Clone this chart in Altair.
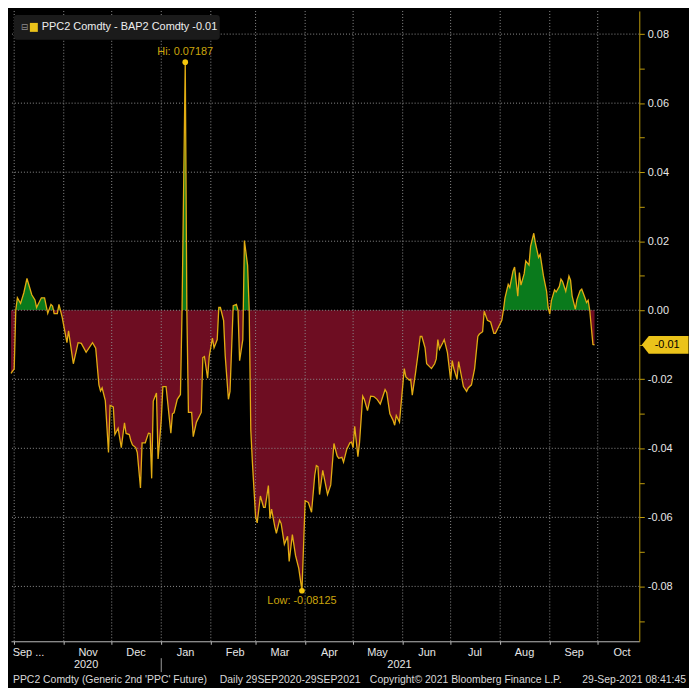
import pandas as pd
import altair as alt

# spread PPC2 - BAP2 (days after 29-Sep-2020)
days = [0, 2, 3, 4, 6, 8, 10, 13, 15, 16,
        19, 21, 23, 25, 26, 27, 29, 30, 32, 35,
        36, 39, 42, 44, 47, 51, 53, 55, 56, 57,
        59, 61, 62, 64, 65, 67, 69, 71, 72, 74,
        75, 76, 78, 79, 81, 82, 84, 86, 87, 88,
        89, 91, 92, 94, 95, 97, 100, 101, 102, 104,
        106, 107, 109, 110, 111, 113, 114, 116, 119, 120,
        121, 123, 124, 126, 127, 129, 130, 131, 133, 134,
        136, 137, 139, 141, 142, 143, 145, 146, 148, 149,
        150, 151, 153, 154, 156, 158, 159, 161, 162, 163,
        165, 166, 168, 169, 171, 173, 174, 176, 178, 180,
        182, 184, 186, 188, 190, 191, 192, 193, 195, 198,
        200, 202, 204, 205, 207, 208, 210, 212, 213, 214,
        215, 217, 218, 220, 221, 223, 225, 227, 229, 231,
        232, 234, 235, 237, 239, 240, 241, 243, 246, 247,
        249, 250, 251, 253, 255, 256, 257, 259, 260, 263,
        265, 266, 267, 268, 270, 271, 273, 275, 276, 277,
        279, 280, 282, 283, 285, 286, 288, 290, 292, 293,
        295, 296, 298, 300, 302, 303, 305, 307, 308, 309,
        311, 312, 314, 315, 317, 318, 319, 321, 322, 324,
        325, 327, 328, 330, 331, 333, 335, 336, 337, 338,
        340, 341, 343, 344, 345, 347, 349, 350, 351, 353,
        354, 356, 357, 359, 360, 361, 362, 364, 365]
spread = [-0.0183, -0.0170, 0.0000, 0.0036, 0.0020, 0.0050, 0.0092, 0.0045, 0.0030, 0.0008,
          0.0036, 0.0036, -0.0009, 0.0017, 0.0012, -0.0010, -0.0010, 0.0017, -0.0020, -0.0094,
          -0.0060, -0.0155, -0.0094, -0.0096, -0.0122, -0.0094, -0.0110, -0.0216, -0.0234, -0.0225,
          -0.0262, -0.0412, -0.0276, -0.0280, -0.0360, -0.0342, -0.0398, -0.0326, -0.0357, -0.0360,
          -0.0378, -0.0390, -0.0398, -0.0412, -0.0515, -0.0384, -0.0384, -0.0356, -0.0357, -0.0487,
          -0.0263, -0.0240, -0.0431, -0.0319, -0.0221, -0.0221, -0.0356, -0.0300, -0.0297, -0.0258,
          -0.0244, 0.0000, 0.07187, 0.0000, -0.0296, -0.0296, -0.0366, -0.0324, -0.0296, -0.0137,
          -0.0134, -0.0197, -0.0134, -0.0081, -0.0109, -0.0085, 0.0008, 0.0008, -0.0030, -0.0132,
          -0.0258, -0.0235, 0.0013, 0.0017, 0.0000, -0.0146, -0.0085, 0.0202, 0.0130, 0.0000,
          -0.0347, -0.0440, -0.0599, -0.0616, -0.0538, -0.0571, -0.0571, -0.0508, -0.0604, -0.0576,
          -0.0627, -0.0646, -0.0608, -0.0618, -0.0678, -0.0655, -0.0728, -0.0650, -0.0711, -0.0748,
          -0.08125, -0.0552, -0.0557, -0.0585, -0.0478, -0.0450, -0.0453, -0.0534, -0.0464, -0.0534,
          -0.0506, -0.0386, -0.0422, -0.0429, -0.0426, -0.0440, -0.0403, -0.0384, -0.0382, -0.0398,
          -0.0336, -0.0424, -0.0384, -0.0249, -0.0258, -0.0291, -0.0249, -0.0250, -0.0258, -0.0272,
          -0.0258, -0.0230, -0.0238, -0.0300, -0.0319, -0.0333, -0.0305, -0.0324, -0.0169, -0.0193,
          -0.0202, -0.0200, -0.0246, -0.0183, -0.0113, -0.0076, -0.0076, -0.0109, -0.0155, -0.0169,
          -0.0155, -0.0141, -0.0085, -0.0113, -0.0095, -0.0085, -0.0123, -0.0202, -0.0146, -0.0169,
          -0.0200, -0.0149, -0.0197, -0.0221, -0.0235, -0.0225, -0.0216, -0.0169, -0.0076, -0.0069,
          -0.0062, -0.0003, -0.0029, -0.0034, -0.0067, -0.0067, -0.0048, -0.0029, 0.0000, 0.0036,
          0.0075, 0.0066, 0.0113, 0.0125, 0.0041, 0.0109, 0.0073, 0.0106, 0.0143, 0.0131,
          0.0185, 0.0223, 0.0195, 0.0153, 0.0162, 0.0101, 0.0055, 0.0008, -0.0011, 0.0027,
          0.0059, 0.0053, 0.0069, 0.0090, 0.0083, 0.0055, 0.0099, 0.0087, 0.0041, 0.0003,
          0.0031, 0.0057, 0.0061, 0.0036, 0.0022, 0.0029, 0.0000, -0.0099, -0.0100]

y_major = [-0.08, -0.06, -0.04, -0.02, 0.0, 0.02, 0.04, 0.06, 0.08]
y_ticks = [-0.09, -0.08, -0.07, -0.06, -0.05, -0.04, -0.03, -0.02, -0.01,
           0.0, 0.01, 0.02, 0.03, 0.04, 0.05, 0.06, 0.07, 0.08]
month_starts = ['2020-10-01', '2020-11-01', '2020-12-01', '2021-01-01', '2021-02-01',
                '2021-03-01', '2021-04-01', '2021-05-01', '2021-06-01', '2021-07-01',
                '2021-08-01', '2021-09-01', '2021-10-01']
year_labels = ['2020', '2021']
year_dates = ['2020-11-15', '2021-05-30']
year_split = ['2021-01-01']
legend_name = 'PPC2 Comdty - BAP2 Comdty'
footer_parts = ["PPC2 Comdty (Generic 2nd 'PPC' Future)", 'Daily 29SEP2020-29SEP2021',
                'Copyright\u00a9 2021 Bloomberg Finance L.P.', '29-Sep-2021 08:41:45']

FONT = 'Liberation Sans'
GREEN = '#0A7A1C'
RED = '#6E0D22'
LINE = '#E2AC12'
GOLD_TEXT = '#CBA50C'
DOT = '#F4C60C'
GRID = '#8E8E8E'
AXIS_Y = '#BE9C0C'
TAG = '#EBC31A'
W, H = 632, 634

df = pd.DataFrame({'date': pd.Timestamp('2020-09-29') + pd.to_timedelta(days, unit='D'),
                   'spread': spread})
months = pd.DataFrame({'date': pd.to_datetime(month_starts)})
levels = pd.DataFrame({'spread': y_major})

hi = df.loc[[df.spread.idxmax()]].copy()
hi['label'] = 'Hi: ' + hi.spread.map('{:.5f}'.format)
lo = df.loc[[df.spread.idxmin()]].copy()
lo['label'] = 'Low: ' + lo.spread.map('{:.5f}'.format)
last = df.tail(1).copy()
last['label'] = last.spread.map('{:.2f}'.format)

# green above zero, red below: gradient split exactly at the zero line
hi_v, lo_v = df.spread.max(), df.spread.min()
off = hi_v / (hi_v - lo_v)
fill = alt.Gradient(gradient='linear', x1=0, y1=0, x2=0, y2=1, stops=[
    alt.GradientStop(color=GREEN, offset=0), alt.GradientStop(color=GREEN, offset=off),
    alt.GradientStop(color=RED, offset=off), alt.GradientStop(color=RED, offset=1)])

x_scale = alt.Scale(domain=[alt.DateTime(year=2020, month=9, date=29),
                            alt.DateTime(year=2021, month=10, date=27)])
y_scale = alt.Scale(domain=[-0.0959, 0.0867], nice=False, zero=False)

first_month = "month(datum.value) == 9 && year(datum.value) == 2020"
x_axis = alt.Axis(
    values=[alt.DateTime(year=d.year, month=d.month, date=1) for d in months.date],
    labelExpr="(" + first_month + ") ? 'Sep ...' : timeFormat(datum.value, '%b')",
    labelOffset={'condition': {'test': first_month, 'value': -2}, 'value': 24},
    labelAlign={'condition': {'test': first_month, 'value': 'left'}, 'value': 'center'},
    labelFlush=False, labelOverlap=False, labelPadding=2,
    tickSize=3, tickColor='#BBBBBB', domainColor='#BBBBBB',
    labelColor='#E6E6E6', labelFontSize=11, labelFont=FONT, grid=False, title=None)
y_axis = alt.Axis(
    orient='right', values=y_ticks,
    labelExpr="abs(round(datum.value * 100)) % 2 == 1 ? '' : replace(format(datum.value, '.2f'), '\u2212', '-')",
    tickSize=5, tickColor=AXIS_Y, domainColor=AXIS_Y, labelPadding=3, labelOverlap=False,
    labelColor='#E6E6E6', labelFontSize=11, labelFont=FONT, grid=False, title=None)

# same scale and axis in every layer so they merge into one
X = alt.X('date:T', scale=x_scale, axis=x_axis)
Y = alt.Y('spread:Q', scale=y_scale, axis=y_axis)

area = alt.Chart(df).mark_area(fill=fill, interpolate='linear').encode(x=X, y=Y, y2=alt.datum(0))
hgrid = alt.Chart(levels).mark_rule(color=GRID, strokeDash=[1, 2]).encode(y=Y)
vgrid = alt.Chart(months).mark_rule(color=GRID, strokeDash=[1, 2]).encode(x=X)
line = alt.Chart(df).mark_line(color=LINE, strokeWidth=1.3).encode(x=X, y=Y)
dots = alt.Chart(pd.concat([hi, lo])).mark_circle(size=32, color=DOT, opacity=1).encode(x=X, y=Y)
hi_text = alt.Chart(hi).mark_text(dy=-10, color=GOLD_TEXT, fontSize=11).encode(x=X, y=Y, text='label:N')
lo_text = alt.Chart(lo).mark_text(dy=10, color=GOLD_TEXT, fontSize=11).encode(x=X, y=Y, text='label:N')

tag = alt.Chart(last).mark_point(
    shape='M -1 0 L -0.7 -0.38 L 1 -0.38 L 1 0.38 L -0.7 0.38 Z',
    size=2209, filled=True, fill=TAG, opacity=1, strokeWidth=0
).encode(x=alt.value(W + 26), y=Y)
tag_text = alt.Chart(last).mark_text(color='black', fontSize=11).encode(
    x=alt.value(W + 28), y=Y, text='label:N')

one = pd.DataFrame({'label': [legend_name + ' ' + last.label.iloc[0]]})
legend_box = alt.Chart(one).mark_rect(fill='#1B1B1B', cornerRadius=3).encode(
    x=alt.value(3), x2=alt.value(210), y=alt.value(4), y2=alt.value(29))
legend_icon = alt.Chart(one).mark_text(text='\u229f', font='DejaVu Sans', fontSize=9, color='#8C8C8C').encode(
    x=alt.value(13.5), y=alt.value(16.5))
legend_swatch = alt.Chart(one).mark_rect(fill=TAG).encode(
    x=alt.value(19), x2=alt.value(27), y=alt.value(12), y2=alt.value(21))
legend_label = alt.Chart(one).mark_text(align='left', baseline='middle', color='#EDEDED', fontSize=11).encode(
    x=alt.value(31), y=alt.value(16.5), text='label:N')

years = alt.Chart(pd.DataFrame({'date': pd.to_datetime(year_dates), 'label': year_labels})).mark_text(
    color='#E6E6E6', fontSize=11, baseline='middle').encode(x=X, y=alt.value(H + 24), text='label:N')
split = alt.Chart(pd.DataFrame({'date': pd.to_datetime(year_split)})).mark_rule(color='#9A9A9A').encode(
    x=X, y=alt.value(H + 17), y2=alt.value(H + 31))

footer = []
for txt, fx, al in zip(footer_parts, [2, 210, 361, W + 47], ['left', 'left', 'left', 'right']):
    footer.append(alt.Chart(pd.DataFrame({'label': [txt]})).mark_text(
        align=al, baseline='middle', color='#D8D8D8', fontSize=10.5).encode(
        x=alt.value(fx), y=alt.value(H + 39), text='label:N'))

chart = alt.layer(
    area, hgrid, vgrid, line, dots, hi_text, lo_text, tag, tag_text,
    legend_box, legend_icon, legend_swatch, legend_label, years, split, *footer
).properties(
    width=W, height=H, padding=0, background='#000000'
).configure_view(
    stroke='transparent'
).configure_text(
    font=FONT
)

chart.save('out.html', embed_options={'renderer': 'svg', 'actions': False})
